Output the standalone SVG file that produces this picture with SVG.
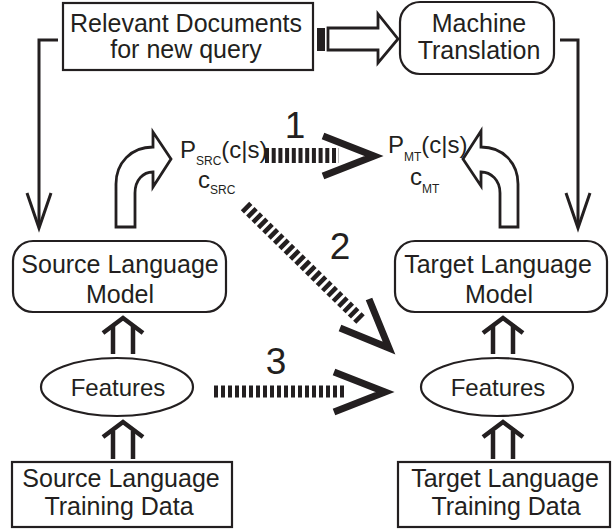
<svg xmlns="http://www.w3.org/2000/svg" width="616" height="529" viewBox="0 0 616 529">
<defs>
<style>
text{font-family:"Liberation Sans",Arial,sans-serif;fill:#231f20}
.t{font-size:25px;text-anchor:middle}
.f{font-size:24px;text-anchor:middle}
.n{font-size:37px;text-anchor:middle}
.m{font-size:24px}
.s{font-size:12px}
.box{fill:#fff;stroke:#231f20;stroke-width:2.2}
.line{fill:none;stroke:#231f20;stroke-width:3}
.hollow{fill:#fff;stroke:#231f20;stroke-width:2.8;stroke-linejoin:miter}
.dbl{fill:none;stroke:#231f20;stroke-width:4.5}
.dash{fill:none;stroke:#231f20}
.chev{fill:none;stroke:#231f20;stroke-width:7;stroke-linejoin:miter;stroke-miterlimit:10}
</style>
</defs>
<rect width="616" height="529" fill="#fff"/>

<g id="connectors">
  <!-- left feed to source model -->
  <path class="line" d="M58,40 H39 V227"/>
  <path class="line" d="M27,193 L39,228 L51,193"/>
  <!-- right feed to target model -->
  <path class="line" d="M560,40 H578 V227"/>
  <path class="line" d="M566,193 L578,228 L590,193"/>
  <!-- hollow arrow relevant docs -> MT -->
  <rect x="317" y="28" width="8" height="23" fill="#231f20"/>
  <path class="hollow" d="M328,28 H378 V14 L398,39 L378,63 V50 H328 Z"/>
  <!-- curved arrows -->
  <path class="hollow" d="M116,227 V184 C116,163 131,147 153,147 V132 L171,159 L153,187 V172 C143,172 135,180 135,193 V227 Z"/>
  <path class="hollow" d="M518,227 V184 C518,163 503,147 481,147 V131 L463,159 L481,186 V172 C491,172 500,180 500,193 V227 Z"/>
  <!-- double arrows -->
  <path class="dbl" d="M113,354 V326 M133,354 V326"/>
  <path class="dbl" d="M103,333 L123,318 L143,333"/>
  <path class="dbl" d="M113,459 V431 M133,459 V431"/>
  <path class="dbl" d="M103,437 L123,422 L143,437"/>
  <path class="dbl" d="M493,354 V326 M513,354 V326"/>
  <path class="dbl" d="M483,333 L503,318 L523,333"/>
  <path class="dbl" d="M493,459 V431 M513,459 V431"/>
  <path class="dbl" d="M483,437 L503,422 L523,437"/>
  <!-- dashed arrow 1 -->
  <line class="dash" x1="265" y1="155.5" x2="339" y2="155.5" stroke-width="15" stroke-dasharray="4 2.7"/>
  <path class="chev" d="M323,136 L374,156 L323,176"/>
  <!-- dashed arrow 2 -->
  <line class="dash" x1="245" y1="206" x2="362" y2="321" stroke-width="12" stroke-dasharray="4.5 3"/>
  <path class="chev" d="M369,299 L389,348 L340,328"/>
  <!-- dashed arrow 3 -->
  <line class="dash" x1="214" y1="391.5" x2="347" y2="391.5" stroke-width="12" stroke-dasharray="4 3"/>
  <path class="chev" d="M334,372 L385,392 L334,412"/>
  <!-- labels -->
  <text class="n" x="295" y="138">1</text>
  <text class="n" x="340" y="259">2</text>
  <text class="n" x="276" y="374">3</text>
</g>

<g id="relevant-docs">
  <rect class="box" x="63" y="3" width="250" height="67"/>
  <text class="t" x="186" y="32">Relevant Documents</text>
  <text class="t" x="186" y="58">for new query</text>
</g>

<g id="machine-translation">
  <rect class="box" x="400" y="2" width="154" height="72" rx="20"/>
  <text class="t" x="479" y="32">Machine</text>
  <text class="t" x="479" y="59">Translation</text>
</g>

<g id="p-src">
  <text class="m" x="180" y="158">P<tspan class="s" dy="7">SRC</tspan><tspan dy="-7">(c|s)</tspan></text>
  <text class="m" x="198" y="188">c<tspan class="s" dy="6">SRC</tspan></text>
</g>

<g id="p-mt">
  <text class="m" x="388" y="153">P<tspan class="s" dy="8">MT</tspan><tspan dy="-8">(c|s)</tspan></text>
  <text class="m" x="410" y="185">c<tspan class="s" dy="8">MT</tspan></text>
</g>

<g id="source-model">
  <rect class="box" x="13" y="241" width="213" height="71" rx="20"/>
  <text class="t" x="120" y="273">Source Language</text>
  <text class="t" x="120" y="303">Model</text>
</g>

<g id="target-model">
  <rect class="box" x="395" y="241" width="212" height="71" rx="20"/>
  <text class="t" x="498" y="273">Target Language</text>
  <text class="t" x="499" y="303">Model</text>
</g>

<g id="source-features">
  <ellipse class="box" cx="117" cy="387" rx="76" ry="29"/>
  <text class="f" x="118" y="396">Features</text>
</g>

<g id="target-features">
  <ellipse class="box" cx="497" cy="387" rx="76" ry="29"/>
  <text class="f" x="498" y="396">Features</text>
</g>

<g id="source-training">
  <rect class="box" x="12" y="462" width="220" height="65"/>
  <text class="t" x="121" y="487">Source Language</text>
  <text class="t" x="119" y="515">Training Data</text>
</g>

<g id="target-training">
  <rect class="box" x="398" y="462" width="212" height="65"/>
  <text class="t" x="505" y="487">Target Language</text>
  <text class="t" x="506" y="515">Training Data</text>
</g>
</svg>
